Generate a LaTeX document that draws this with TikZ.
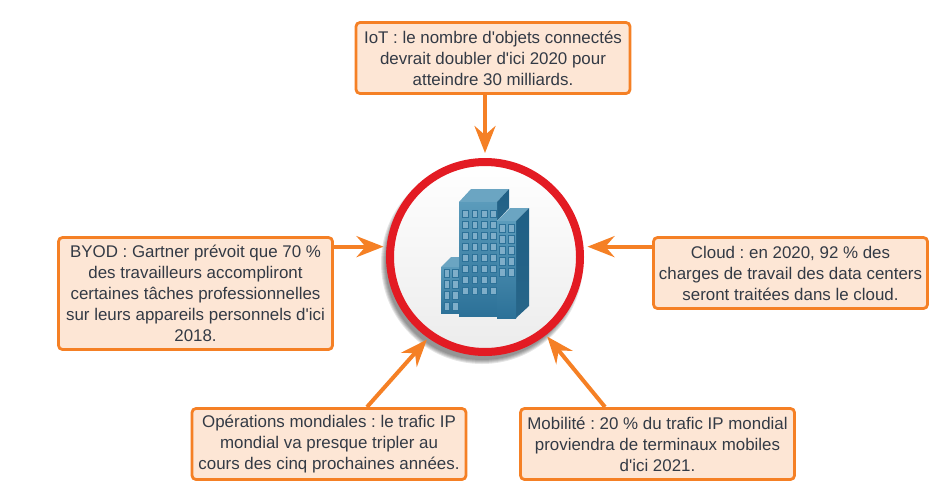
\documentclass[tikz,border=0pt]{standalone}
\usepackage{fontspec}
\setmainfont{Liberation Sans}
\usetikzlibrary{arrows.meta}
\definecolor{boxorange}{HTML}{F58025}
\definecolor{boxfill}{HTML}{FDE6D5}
\definecolor{hubred}{HTML}{E31B23}
\definecolor{textgrey}{HTML}{333A45}
\definecolor{wallblue}{HTML}{2C7198}
\definecolor{sideblue}{HTML}{1F5F85}
\definecolor{roofblue}{HTML}{5B9BBB}
\definecolor{winblue}{HTML}{7FAEC9}
\begin{document}
\begin{tikzpicture}[
  x=1pt, y=-1pt,
  font=\fontsize{16.9}{21}\selectfont\frenchspacing,
  box/.style={draw=boxorange, fill=boxfill, line width=2.8pt, rounded corners=4pt,
              minimum width=274pt, align=center, inner sep=0pt, text=textgrey},
  arrow/.style={-{Stealth[length=27pt, width=21pt, inset=9pt]}, draw=boxorange, line width=4pt},
  wall/.style={top color=roofblue, bottom color=wallblue, draw=none},
  side/.style={top color=sideblue, bottom color=wallblue!90!black, draw=none},
  roof/.style={fill=roofblue!90!white},
  win/.style={fill=winblue, draw=wallblue, line width=0.5pt}
]
\useasboundingbox (0,0) rectangle (947,501);

% soft shadow of the hub
\foreach \r in {101,100,99,98,97}
  \fill[black, opacity=0.10] (482,263) circle[radius=\r pt];

\node[circle, draw=hubred, line width=8pt, minimum size=190pt, inner sep=0pt,
      top color=white, bottom color=gray!15] (hub) at (485,257) {};

\node[box, minimum height=71pt] (iot) at (493,58) {IoT : le nombre d\textquotesingle objets connectés\\
devrait doubler d\textquotesingle ici 2020 pour\\ atteindre 30 milliards.};
\node[box, minimum height=112pt] (byod) at (195.5,293.5) {BYOD : Gartner prévoit que 70 \%\\
des travailleurs accompliront\\ certaines tâches professionnelles\\
sur leurs appareils personnels d\textquotesingle ici\\ 2018.};
\node[box, minimum height=71pt] (cloud) at (790.5,273) {Cloud : en 2020, 92 \% des\\
charges de travail des data centers\\ seront traitées dans le cloud.};
\node[box, minimum height=71pt] (ops) at (329,444) {Opérations mondiales : le trafic IP\\
mondial va presque tripler au\\ cours des cinq prochaines années.};
\node[box, minimum height=71pt] (mob) at (657.5,444) {Mobilité : 20 \% du trafic IP mondial\\
proviendra de terminaux mobiles\\ d\textquotesingle ici 2021.};

\coordinate (opsstart) at (367,407);
\coordinate (mobstart) at (605,407);

\draw[arrow, shorten >=5pt] (iot.south -| hub.north) -- (hub.north);
\draw[arrow, shorten >=3pt] (byod.east |- hub.174) -- (hub.174);
\draw[arrow, shorten >=4pt] (cloud.west |- hub.6) -- (hub.6);
\draw[arrow, shorten >=2pt] (opsstart) -- (hub.235);
\draw[arrow, shorten >=2pt] (mobstart) -- (hub.308);

% building: left tower, middle tower, right tower
\fill[roof] (441,267) -- (451,257) -- (459,257) -- (459,267) -- cycle;
\path[wall] (441,267) rectangle (459,313);
\foreach \x in {444,452.7}
  \foreach \n in {0,...,3}
    \filldraw[win] (\x,269.3+11*\n) rectangle ++(5.5,7.5);

\fill[roof] (459,202) -- (471,189) -- (509,189) -- (497,202) -- cycle;
\path[side] (497,202) -- (509,189) -- (509,208) -- (497,221) -- cycle;
\path[wall] (459,202) rectangle (497,316);
\foreach \x in {462.7,472,481.3,490.7}
  \foreach \n in {0,...,7}
    \filldraw[win] (\x,210+11*\n) rectangle ++(5.5,7.5);

\fill[roof] (497,221) -- (510,208) -- (529,208) -- (516,221) -- cycle;
\path[side] (516,221) -- (529,208) -- (529,306) -- (516,318) -- cycle;
\path[wall] (497,221) rectangle (516,318);
\foreach \x in {499.3,508.7}
  \foreach \n in {0,...,4}
    \filldraw[win] (\x,224.3+11*\n) rectangle ++(5.5,7.5);
\end{tikzpicture}
\end{document}
